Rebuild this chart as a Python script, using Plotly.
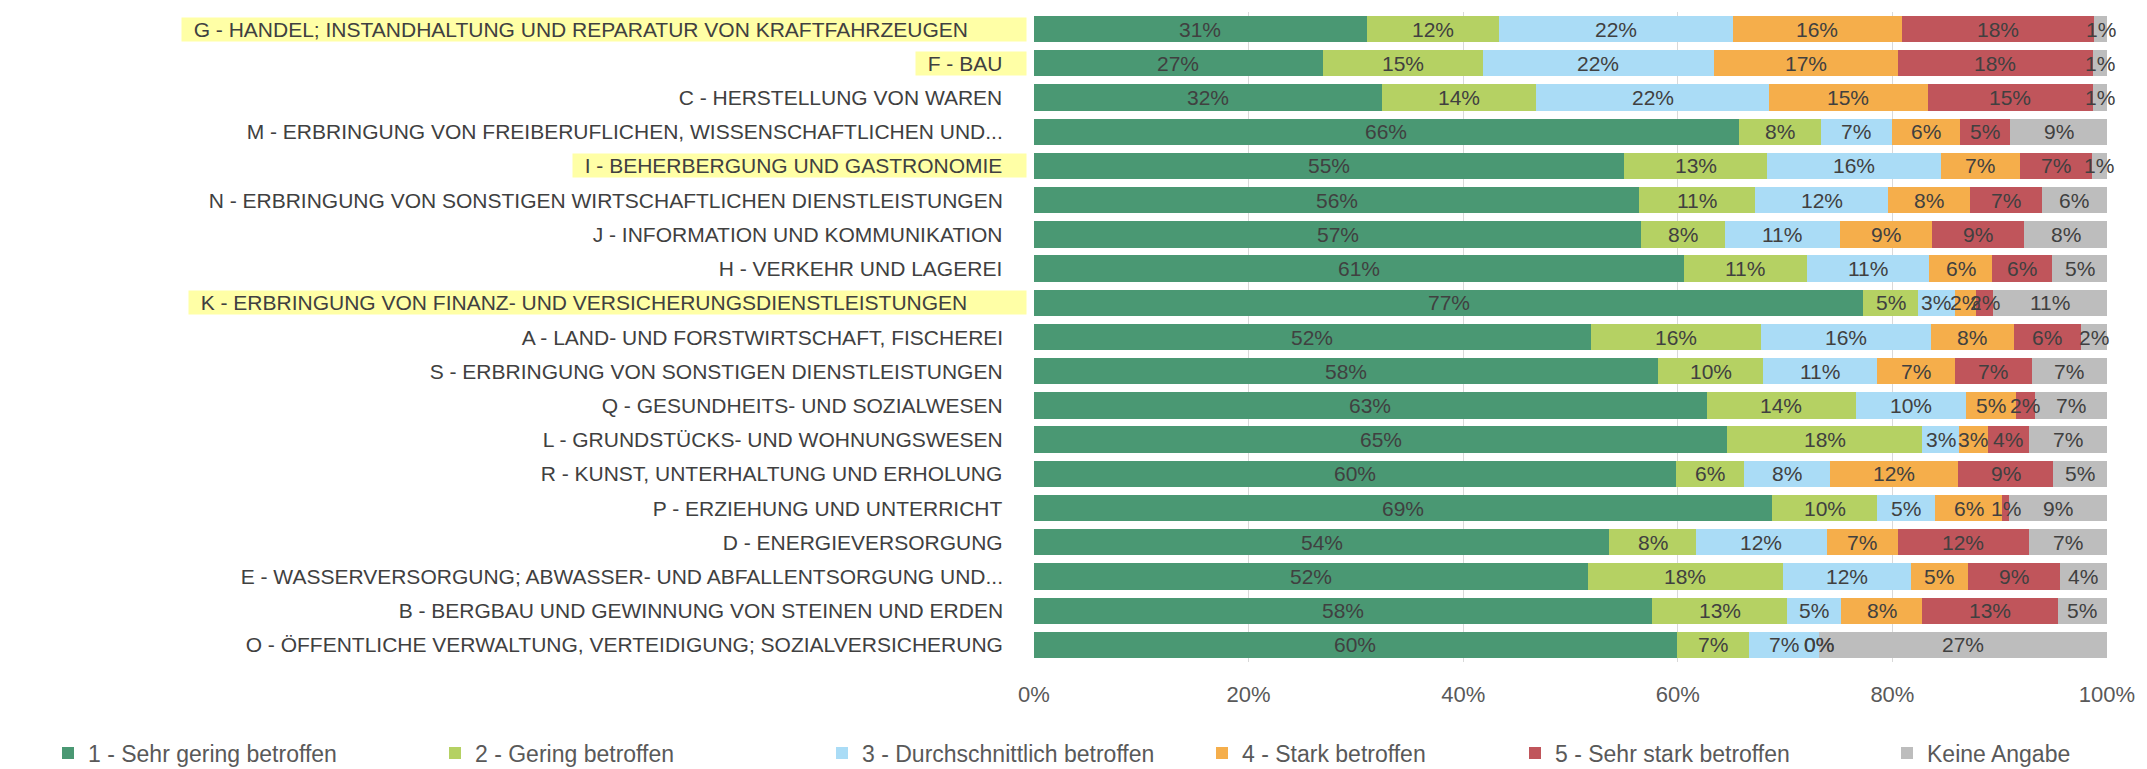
import plotly.graph_objects as go

categories = [
    "G - HANDEL; INSTANDHALTUNG UND REPARATUR VON KRAFTFAHRZEUGEN",
    "F - BAU",
    "C - HERSTELLUNG VON WAREN",
    "M - ERBRINGUNG VON FREIBERUFLICHEN, WISSENSCHAFTLICHEN UND...",
    "I - BEHERBERGUNG UND GASTRONOMIE",
    "N - ERBRINGUNG VON SONSTIGEN WIRTSCHAFTLICHEN DIENSTLEISTUNGEN",
    "J - INFORMATION UND KOMMUNIKATION",
    "H - VERKEHR UND LAGEREI",
    "K - ERBRINGUNG VON FINANZ- UND VERSICHERUNGSDIENSTLEISTUNGEN",
    "A - LAND- UND FORSTWIRTSCHAFT, FISCHEREI",
    "S - ERBRINGUNG VON SONSTIGEN DIENSTLEISTUNGEN",
    "Q - GESUNDHEITS- UND SOZIALWESEN",
    "L - GRUNDSTÜCKS- UND WOHNUNGSWESEN",
    "R - KUNST, UNTERHALTUNG UND ERHOLUNG",
    "P - ERZIEHUNG UND UNTERRICHT",
    "D - ENERGIEVERSORGUNG",
    "E - WASSERVERSORGUNG; ABWASSER- UND ABFALLENTSORGUNG UND...",
    "B - BERGBAU UND GEWINNUNG VON STEINEN UND ERDEN",
    "O - ÖFFENTLICHE VERWALTUNG, VERTEIDIGUNG; SOZIALVERSICHERUNG",
]
highlighted = [True, True, False, False, True, False, False, False, True,
               False, False, False, False, False, False, False, False, False, False]
trailing_pad = [10, 4, 4, 4, 4, 4, 4, 4, 10, 4, 4, 4, 4, 4, 4, 4, 4, 4, 4]

series_names = [
    "1 - Sehr gering betroffen",
    "2 - Gering betroffen",
    "3 - Durchschnittlich betroffen",
    "4 - Stark betroffen",
    "5 - Sehr stark betroffen",
    "Keine Angabe",
]
s1 = [31.0, 26.9, 32.4, 65.7, 55.0, 56.4, 56.6, 60.6, 77.3, 51.9, 58.2, 62.7, 64.6, 59.8, 68.8, 53.6, 51.6, 57.6, 59.9]
s2 = [12.3, 14.9, 14.4, 7.6, 13.3, 10.8, 7.8, 11.4, 5.1, 15.9, 9.7, 13.9, 18.2, 6.4, 9.8, 8.1, 18.2, 12.6, 6.7]
s3 = [21.8, 21.6, 21.7, 6.7, 16.2, 12.4, 10.7, 11.4, 3.4, 15.8, 10.7, 10.3, 3.4, 8.0, 5.4, 12.2, 11.9, 5.0, 6.6]
s4 = [15.8, 17.1, 14.8, 6.3, 7.4, 7.6, 8.6, 5.9, 2.0, 7.7, 7.2, 4.6, 2.7, 11.9, 6.2, 6.6, 5.3, 7.6, 0.0]
s5 = [17.9, 18.2, 15.4, 4.7, 6.7, 6.7, 8.6, 5.6, 1.6, 6.3, 7.2, 1.8, 3.8, 8.9, 0.7, 12.2, 8.6, 12.6, 0.0]
s6 = [1.2, 1.3, 1.3, 9.0, 1.4, 6.1, 7.7, 5.1, 10.6, 2.4, 7.0, 6.7, 7.3, 5.0, 9.1, 7.3, 4.4, 4.6, 26.8]
series_values = [s1, s2, s3, s4, s5, s6]
series_colors = ["#4A9873", "#B5D163", "#AADCF6", "#F5AE4B", "#C0555B", "#BDBDBD"]

x_ticks = [0, 20, 40, 60, 80, 100]
x_tick_text = ["0%", "20%", "40%", "60%", "80%", "100%"]

# legend symbol centre positions (px in figure)
legend_centers_px = [69, 456, 843, 1223, 1536, 1908]

W, H = 2147, 769
ML, MR, MT, MB = 1034, 40, 12, 107
PW = W - ML - MR
PH = H - MT - MB


def px_to_paper_x(px):
    return (px - ML) / PW


def py_to_paper_y(py):
    return (H - MB - py) / PH


FONT = "Liberation Sans, Arial, sans-serif"
TXT = "#404040"
TXT2 = "#595959"

fig = go.Figure()
legend_keys = ["legend", "legend2", "legend3", "legend4", "legend5", "legend6"]
for name, vals, col, lk in zip(series_names, series_values, series_colors, legend_keys):
    fig.add_trace(go.Bar(
        name=name, y=categories, x=vals, orientation="h",
        marker=dict(color=col, line=dict(width=0)),
        legend=lk, hoverinfo="x+name",
    ))

annotations = []
# data labels
cum = [0.0] * len(categories)
for vals in series_values:
    for i, v in enumerate(vals):
        annotations.append(dict(
            x=cum[i] + v / 2, y=categories[i], xref="x", yref="y",
            text=f"{v:.0f}%", showarrow=False,
            font=dict(family=FONT, size=21, color=TXT),
        ))
        cum[i] += v

# category labels
for cat, hl, tp in zip(categories, highlighted, trailing_pad):
    annotations.append(dict(
        x=px_to_paper_x(1027), y=cat, xref="paper", yref="y",
        xanchor="right", yanchor="middle",
        text="\u00a0\u00a0" + cat + "\u00a0" * tp, showarrow=False,
        bgcolor="#FFFFA6" if hl else "rgba(0,0,0,0)",
        borderpad=0,
        font=dict(family=FONT, size=21, color=TXT),
    ))

layout_legends = {}
for lk, c in zip(legend_keys, legend_centers_px):
    layout_legends[lk] = dict(
        x=px_to_paper_x(c - 21), y=py_to_paper_y(753),
        xanchor="left", yanchor="middle", orientation="h",
        bgcolor="rgba(0,0,0,0)", borderwidth=0,
        font=dict(family=FONT, size=23, color=TXT2),
    )

fig.update_layout(
    width=W, height=H,
    margin=dict(l=ML, r=MR, t=MT, b=MB, pad=0, autoexpand=False),
    barmode="stack", bargap=0.23,
    paper_bgcolor="white", plot_bgcolor="white",
    font=dict(family=FONT, color=TXT2),
    annotations=annotations,
    showlegend=True,
    xaxis=dict(
        range=[0, 100], tickmode="array", tickvals=x_ticks, ticktext=x_tick_text,
        showgrid=True, gridcolor="#D9D9D9", gridwidth=1,
        zeroline=False, showline=False, ticks="",
        tickfont=dict(family=FONT, size=22, color=TXT2),
        ticklabelstandoff=17, fixedrange=True,
    ),
    yaxis=dict(
        categoryorder="array", categoryarray=categories,
        autorange="reversed", showticklabels=False, showgrid=False,
        zeroline=False, ticks="", fixedrange=True,
    ),
    **layout_legends,
)

fig.write_html(
    "out.html",
    config={"displayModeBar": False},
    post_script="document.body.style.margin='0';document.body.style.overflow='hidden';",
)
